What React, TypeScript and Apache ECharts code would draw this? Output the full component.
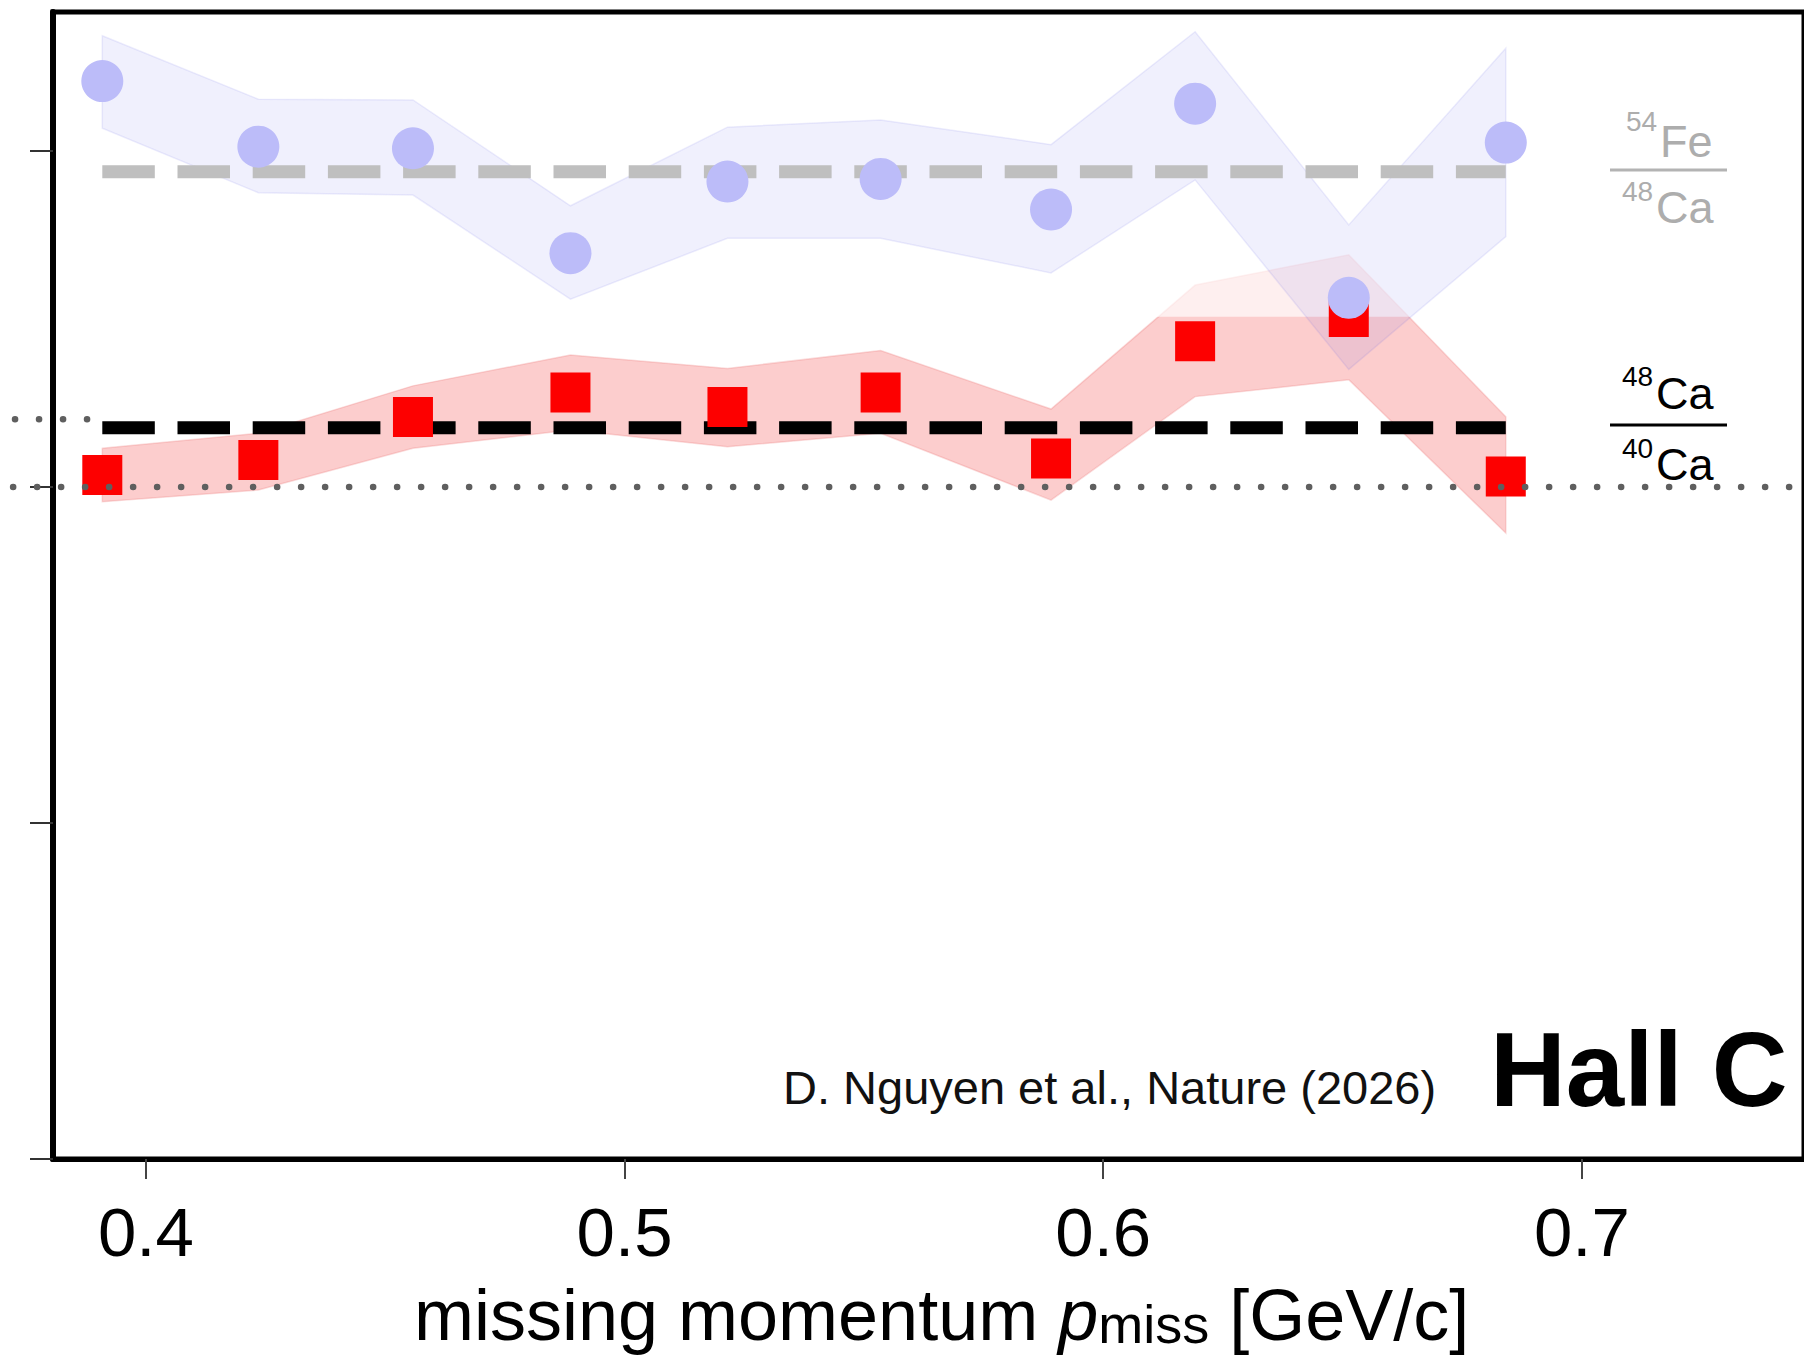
import React, { useEffect, useRef } from "react";
import * as echarts from "echarts";

// ---- data ----
const pMiss = [0.3909, 0.4235, 0.4558, 0.4887, 0.5215, 0.5535, 0.5891, 0.6192, 0.6513, 0.6841];

// 54Fe / 48Ca (blue circles + band)
const feCa = [1.1208, 1.1013, 1.1008, 1.0696, 1.0909, 1.0917, 1.0826, 1.1141, 1.0563, 1.1025];
const feCaHi = [1.1343, 1.1154, 1.1152, 1.0837, 1.1071, 1.1092, 1.1019, 1.1355, 1.078, 1.1306];
const feCaLo = [1.1068, 1.0876, 1.0869, 1.0559, 1.074, 1.074, 1.0637, 1.0914, 1.035, 1.0745];

// 48Ca / 40Ca (red squares + band)
const caCa = [1.0036, 1.008, 1.0208, 1.0281, 1.0238, 1.0281, 1.0085, 1.0434, 1.0506, 1.0031];
const caCaHi = [1.0115, 1.016, 1.0301, 1.0393, 1.0353, 1.0406, 1.0232, 1.0601, 1.0691, 1.0209];
const caCaLo = [0.9956, 0.9991, 1.0115, 1.017, 1.012, 1.016, 0.9961, 1.0269, 1.0319, 0.9863];

const feCaMean = 1.0938;
const caCaMean = 1.0176;
const unityLevel = 1.0;
const upperDotLevel = 1.0202;
const upperDotRange = [0.3727, 0.3879];
const unityStart = 0.3723;
const fadeBoxX = [0.609, 0.6646];
const fadeBoxY = [1.0507, 1.0735];

const xTicks = [0.4, 0.5, 0.6, 0.7];
const yTicks = [0.8, 0.9, 1.0, 1.1];
const X_MIN = 0.3806;
const X_MIN_OUTER = 0.369566;
const X_MAX = 0.7464;
const Y_MIN = 0.8;
const Y_MAX = 1.14137;

const FONT = '"Liberation Sans", Arial, Helvetica, sans-serif';
const GREY_TXT = "#adadad";

function bandSeries(hi: number[], lo: number[], fill: string, stroke: string, z: number, fade?: boolean) {
  return {
    type: "custom",
    coordinateSystem: "cartesian2d",
    z,
    silent: true,
    clip: false,
    data: [[pMiss[0], hi[0]]],
    encode: { x: 0, y: 1 },
    renderItem: (_params: any, api: any) => {
      const pts: number[][] = [];
      for (let i = 0; i < pMiss.length; i++) pts.push(api.coord([pMiss[i], hi[i]]));
      for (let i = pMiss.length - 1; i >= 0; i--) pts.push(api.coord([pMiss[i], lo[i]]));
      const children: any[] = [
        { type: "polygon", shape: { points: pts }, style: { fill, stroke, lineWidth: 1.5 } },
      ];
      if (fade) {
        const a = api.coord([fadeBoxX[0], fadeBoxY[1]]);
        const b = api.coord([fadeBoxX[1], fadeBoxY[0]]);
        children.push({
          type: "rect",
          shape: { x: a[0], y: a[1], width: b[0] - a[0], height: b[1] - a[1] },
          style: { fill: "rgba(255,255,255,0.67)" },
        });
      }
      return { type: "group", children };
    },
  };
}

function txt(text: string, x: number, y: number, size: number, fill: string, weight = "normal") {
  return {
    type: "text",
    x,
    y,
    silent: true,
    style: {
      text,
      font: `${weight} ${size}px ${FONT}`,
      fill,
      align: "left",
      verticalAlign: "middle",
    },
  };
}

function hline(x1: number, x2: number, y: number, color: string) {
  return {
    type: "line",
    silent: true,
    shape: { x1, y1: y, x2, y2: y },
    style: { stroke: color, lineWidth: 3 },
  };
}

const dotStyle = { color: "#5f5f5f", width: 6.5, type: [0.1, 23.9], cap: "round" };

export default function App() {
  const ref = useRef<HTMLDivElement>(null);

  useEffect(() => {
    document.body.style.margin = "0";
    const chart = echarts.init(ref.current!, null, { renderer: "svg", width: 1804, height: 1358 });

    const option: any = {
      animation: false,
      backgroundColor: "#ffffff",
      grid: [
        {
          left: 53,
          top: 12,
          width: 1757,
          height: 1147,
          show: true,
          borderColor: "#000",
          borderWidth: 5,
          backgroundColor: "transparent",
        },
        { left: 0, top: 12, width: 1810, height: 1147, show: false },
      ],
      xAxis: [
        {
          type: "value",
          min: X_MIN,
          max: X_MAX,
          axisLine: { show: true, onZero: false, lineStyle: { color: "#000", width: 5 } },
          axisTick: { show: true, length: 20, lineStyle: { color: "#444", width: 2 }, customValues: xTicks },
          axisLabel: {
            customValues: xTicks,
            fontSize: 69,
            fontFamily: FONT,
            color: "#000",
            margin: 39,
            formatter: (v: number) => v.toFixed(1),
          },
          splitLine: { show: false },
        },
        { gridIndex: 1, type: "value", min: X_MIN_OUTER, max: X_MAX, show: false },
      ],
      yAxis: [
        {
          type: "value",
          min: Y_MIN,
          max: Y_MAX,
          axisLine: { show: true, onZero: false, lineStyle: { color: "#000", width: 6 } },
          axisTick: { show: true, length: 23, lineStyle: { color: "#333", width: 2 }, customValues: yTicks },
          axisLabel: { show: false },
          splitLine: { show: false },
        },
        { gridIndex: 1, type: "value", min: Y_MIN, max: Y_MAX, show: false },
      ],
      series: [
        bandSeries(caCaHi, caCaLo, "rgba(245,90,90,0.3)", "rgba(235,110,110,0.25)", 1, true),
        bandSeries(feCaHi, feCaLo, "rgba(90,90,230,0.09)", "rgba(110,110,230,0.12)", 2),
        {
          type: "line",
          z: 3,
          silent: true,
          symbol: "none",
          data: [
            [pMiss[0], feCaMean],
            [pMiss[pMiss.length - 1], feCaMean],
          ],
          lineStyle: { color: "#bfbfbf", width: 13, type: [52.5, 22.7], cap: "butt" },
        },
        {
          type: "line",
          z: 3,
          silent: true,
          symbol: "none",
          data: [
            [pMiss[0], caCaMean],
            [pMiss[pMiss.length - 1], caCaMean],
          ],
          lineStyle: { color: "#000", width: 13, type: [52.5, 22.7], cap: "butt" },
        },
        {
          type: "scatter",
          z: 4,
          silent: true,
          symbol: "rect",
          symbolSize: 40,
          itemStyle: { color: "#fd0000", opacity: 1 },
          data: pMiss.map((x, i) => [x, caCa[i]]),
        },
        {
          type: "scatter",
          z: 5,
          silent: true,
          symbol: "circle",
          symbolSize: 42,
          itemStyle: { color: "#bcbcf9", opacity: 1 },
          data: pMiss.map((x, i) => [x, feCa[i]]),
        },
        {
          type: "line",
          xAxisIndex: 1,
          yAxisIndex: 1,
          z: 6,
          silent: true,
          symbol: "none",
          data: [
            [unityStart, unityLevel],
            [X_MAX, unityLevel],
          ],
          lineStyle: dotStyle,
        },
        {
          type: "line",
          xAxisIndex: 1,
          yAxisIndex: 1,
          z: 6,
          silent: true,
          symbol: "none",
          data: [
            [upperDotRange[0], upperDotLevel],
            [upperDotRange[1], upperDotLevel],
          ],
          lineStyle: dotStyle,
        },
      ],
      graphic: [
        txt("54", 1626, 121, 28, GREY_TXT),
        txt("Fe", 1660, 141, 45, GREY_TXT),
        hline(1610, 1727, 170, "#b3b3b3"),
        txt("48", 1622, 191, 28, GREY_TXT),
        txt("Ca", 1656, 207, 45, GREY_TXT),
        txt("48", 1622, 376, 28, "#000"),
        txt("Ca", 1656, 393, 45, "#000"),
        hline(1610, 1727, 425, "#000"),
        txt("40", 1622, 448, 28, "#000"),
        txt("Ca", 1656, 464, 45, "#000"),
        txt("D. Nguyen et al., Nature (2026)", 783, 1087, 47, "#111"),
        txt("Hall C", 1490, 1069, 105, "#000", "bold"),
        {
          type: "text",
          x: 414,
          y: 1315,
          silent: true,
          style: {
            text: "{a|missing momentum }{p|p}{s|miss}{a| [GeV/c]}",
            align: "left",
            verticalAlign: "middle",
            fill: "#000",
            rich: {
              a: { fontSize: 72, fontFamily: FONT, fill: "#000", verticalAlign: "bottom" },
              p: { fontSize: 72, fontFamily: FONT, fontStyle: "italic", fill: "#000", verticalAlign: "bottom" },
              s: { fontSize: 54, fontFamily: FONT, fill: "#000", verticalAlign: "bottom" },
            },
          },
        },
      ],
    };

    chart.setOption(option);
    return () => chart.dispose();
  }, []);

  return (
    <div
      ref={ref}
      style={{ position: "absolute", left: 0, top: 0, width: 1804, height: 1358, background: "#fff" }}
    />
  );
}
